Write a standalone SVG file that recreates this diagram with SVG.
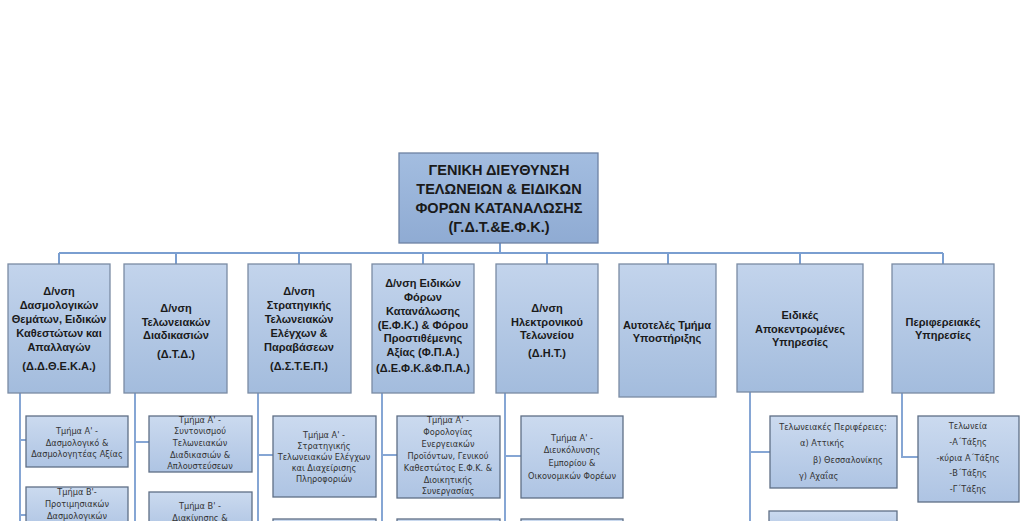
<svg xmlns="http://www.w3.org/2000/svg" width="1023" height="521" viewBox="0 0 1023 521">
<defs>
<linearGradient id="gTop" x1="0" y1="0" x2="0" y2="1"><stop offset="0" stop-color="#a3bde0"/><stop offset="1" stop-color="#8fabd3"/></linearGradient>
<linearGradient id="gMain" x1="0" y1="0" x2="0" y2="1"><stop offset="0" stop-color="#c3d4ec"/><stop offset="1" stop-color="#a3bcdd"/></linearGradient>
<linearGradient id="gSub" x1="0" y1="0" x2="0" y2="1"><stop offset="0" stop-color="#cbdaef"/><stop offset="1" stop-color="#aec4e3"/></linearGradient>
</defs>
<style>
.top rect{fill:url(#gTop);stroke:#6d82a3;stroke-width:1.3}
.main rect{fill:url(#gMain);stroke:#7a8ba4;stroke-width:1.3}
.sub rect{fill:url(#gSub);stroke:#5f6f86;stroke-width:1.3}
.tt{font-family:"Liberation Sans",Arial,sans-serif;font-weight:bold;font-size:14.5px;fill:#1a1a1a;text-anchor:middle}
.t{font-family:"Liberation Sans",Arial,sans-serif;font-weight:bold;font-size:11px;fill:#1a1a1a;text-anchor:middle}
.s{font-family:"DejaVu Sans",Verdana,sans-serif;font-size:8.2px;fill:#333;text-anchor:middle}
.sl{text-anchor:start}
.c path{stroke:#86a6d4;stroke-width:2;fill:none}
.c .b{stroke:#7a9ed0}
</style>
<rect width="1023" height="521" fill="#ffffff"/>
<g id="connectors" class="c">
<path class="b" d="M500 243V253M59 253H943M59 253V264M176 253V264M299 253V264M423 253V264M547 253V264M668 253V264M800 253V264M943 253V264"/>
<path d="M20 393V521M135 393V521M258 393V521M382 393V521M505 393V521M750 392V521M902 393V457H918"/>
<path d="M20 440H26M20 515H26M135 442H149M258 455H273M382 455H397M505 456H521M750 452H770"/>
</g>
<g id="n0" class="top"><rect x="399" y="153" width="199" height="90"/>
<text class="tt" x="499" y="175">ΓΕΝΙΚΗ ΔΙΕΥΘΥΝΣΗ</text>
<text class="tt" x="499" y="194">ΤΕΛΩΝΕΙΩΝ &amp; ΕΙΔΙΚΩΝ</text>
<text class="tt" x="499" y="213">ΦΟΡΩΝ ΚΑΤΑΝΑΛΩΣΗΣ</text>
<text class="tt" x="499" y="232">(Γ.Δ.Τ.&amp;Ε.Φ.Κ.)</text>
</g>
<g id="n1" class="main"><rect x="8" y="264" width="102" height="129"/>
<text class="t" x="59" y="295">Δ/νση</text>
<text class="t" x="59" y="309">Δασμολογικών</text>
<text class="t" x="59" y="323">Θεμάτων, Ειδικών</text>
<text class="t" x="59" y="337">Καθεστώτων και</text>
<text class="t" x="59" y="351">Απαλλαγών</text>
<text class="t" x="59" y="370">(Δ.Δ.Θ.Ε.Κ.Α.)</text>
</g>
<g id="n2" class="main"><rect x="124" y="264" width="103" height="129"/>
<text class="t" x="176" y="312">Δ/νση</text>
<text class="t" x="176" y="326">Τελωνειακών</text>
<text class="t" x="176" y="339">Διαδικασιών</text>
<text class="t" x="176" y="358">(Δ.Τ.Δ.)</text>
</g>
<g id="n3" class="main"><rect x="248" y="264" width="103" height="129"/>
<text class="t" x="299" y="295">Δ/νση</text>
<text class="t" x="299" y="309">Στρατηγικής</text>
<text class="t" x="299" y="323">Τελωνειακών</text>
<text class="t" x="299" y="337">Ελέγχων &amp;</text>
<text class="t" x="299" y="351">Παραβάσεων</text>
<text class="t" x="299" y="370">(Δ.Σ.Τ.Ε.Π.)</text>
</g>
<g id="n4" class="main"><rect x="372" y="264" width="102" height="129"/>
<text class="t" x="423" y="287">Δ/νση Ειδικών</text>
<text class="t" x="423" y="301">Φόρων</text>
<text class="t" x="423" y="315">Κατανάλωσης</text>
<text class="t" x="423" y="329">(Ε.Φ.Κ.) &amp; Φόρου</text>
<text class="t" x="423" y="342">Προστιθέμενης</text>
<text class="t" x="423" y="356">Αξίας (Φ.Π.Α.)</text>
<text class="t" x="423" y="372">(Δ.Ε.Φ.Κ.&amp;Φ.Π.Α.)</text>
</g>
<g id="n5" class="main"><rect x="496" y="264" width="102" height="129"/>
<text class="t" x="547" y="312">Δ/νση</text>
<text class="t" x="547" y="326">Ηλεκτρονικού</text>
<text class="t" x="547" y="339">Τελωνείου</text>
<text class="t" x="547" y="357">(Δ.Η.Τ.)</text>
</g>
<g id="n6" class="main"><rect x="619" y="264" width="97" height="133"/>
<text class="t" x="667" y="329">Αυτοτελές Τμήμα</text>
<text class="t" x="667" y="342">Υποστήριξης</text>
</g>
<g id="n7" class="main"><rect x="737" y="264" width="126" height="128"/>
<text class="t" x="800" y="319">Ειδικές</text>
<text class="t" x="800" y="333">Αποκεντρωμένες</text>
<text class="t" x="800" y="346">Υπηρεσίες</text>
</g>
<g id="n8" class="main"><rect x="892" y="264" width="102" height="129"/>
<text class="t" x="943" y="326">Περιφερειακές</text>
<text class="t" x="943" y="339">Υπηρεσίες</text>
</g>
<g id="s1a" class="sub"><rect x="26" y="416" width="102" height="51"/>
<text class="s" x="77" y="434">Τμήμα Α' -</text>
<text class="s" x="77" y="446">Δασμολογικό &amp;</text>
<text class="s" x="77" y="457">Δασμολογητέας Αξίας</text>
</g>
<g id="s1b" class="sub"><rect x="26" y="487" width="102" height="45"/>
<text class="s" x="77" y="495">Τμήμα Β'-</text>
<text class="s" x="77" y="507">Προτιμησιακών</text>
<text class="s" x="77" y="519">Δασμολογικών</text>
</g>
<g id="s2a" class="sub"><rect x="149" y="416" width="103" height="56"/>
<text class="s" x="200" y="423">Τμήμα Α' -</text>
<text class="s" x="200" y="434">Συντονισμού</text>
<text class="s" x="200" y="446">Τελωνειακών</text>
<text class="s" x="200" y="458">Διαδικασιών &amp;</text>
<text class="s" x="200" y="469">Απλουστεύσεων</text>
</g>
<g id="s2b" class="sub"><rect x="149" y="492" width="103" height="40"/>
<text class="s" x="200" y="509">Τμήμα Β' -</text>
<text class="s" x="200" y="521">Διακίνησης &amp;</text>
</g>
<g id="s3a" class="sub"><rect x="273" y="416" width="103" height="81"/>
<text class="s" x="324" y="438">Τμήμα Α' -</text>
<text class="s" x="324" y="449">Στρατηγικής</text>
<text class="s" x="324" y="460">Τελωνειακών Ελέγχων</text>
<text class="s" x="324" y="471">και Διαχείρισης</text>
<text class="s" x="324" y="482">Πληροφοριών</text>
</g>
<g id="s3b" class="sub"><rect x="273" y="519" width="103" height="20"/></g>
<g id="s4a" class="sub"><rect x="397" y="416" width="103" height="82"/>
<text class="s" x="448" y="423">Τμήμα Α' -</text>
<text class="s" x="448" y="435">Φορολογίας</text>
<text class="s" x="448" y="447">Ενεργειακών</text>
<text class="s" x="448" y="459">Προϊόντων,  Γενικού</text>
<text class="s" x="448" y="471">Καθεστώτος  Ε.Φ.Κ. &amp;</text>
<text class="s" x="448" y="483">Διοικητικής</text>
<text class="s" x="448" y="494">Συνεργασίας</text>
</g>
<g id="s4b" class="sub"><rect x="397" y="519" width="103" height="20"/></g>
<g id="s5a" class="sub"><rect x="521" y="416" width="102" height="82"/>
<text class="s" x="572" y="441">Τμήμα Α' -</text>
<text class="s" x="572" y="453">Διευκόλυνσης</text>
<text class="s" x="572" y="466">Εμπορίου  &amp;</text>
<text class="s" x="572" y="479">Οικονομικών  Φορέων</text>
</g>
<g id="s5b" class="sub"><rect x="521" y="519" width="102" height="20"/></g>
<g id="s7a" class="sub"><rect x="770" y="416" width="127" height="72"/>
<text class="s" x="833" y="430">Τελωνειακές Περιφέρειες:</text>
<text class="s sl" x="800" y="446">α) Αττικής</text>
<text class="s sl" x="813" y="463">β) Θεσσαλονίκης</text>
<text class="s sl" x="799" y="479">γ) Αχαΐας</text>
</g>
<g id="s7b" class="sub"><rect x="769" y="511" width="128" height="25"/></g>
<g id="s8a" class="sub"><rect x="918" y="416" width="101" height="86"/>
<text class="s" x="968" y="429">Τελωνεία</text>
<text class="s" x="968" y="445">-Α΄Τάξης</text>
<text class="s" x="968" y="461">-κύρια Α΄Τάξης</text>
<text class="s" x="968" y="476">-Β΄Τάξης</text>
<text class="s" x="968" y="492">-Γ΄Τάξης</text>
</g>
</svg>
